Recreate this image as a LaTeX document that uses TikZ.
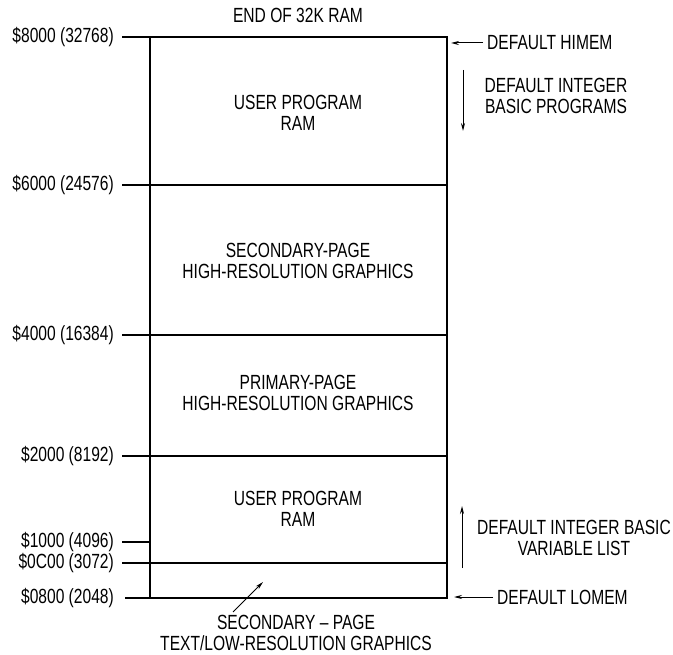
\documentclass[tikz,border=0pt]{standalone}
\usepackage{fontspec}
\setmainfont{Liberation Sans}[FakeStretch=0.76]
\usetikzlibrary{arrows.meta}
\begin{document}
\begin{tikzpicture}[x=1pt,y=-1pt,
  lbl/.style={font=\fontsize{20.5}{21}\selectfont, inner sep=0pt, align=center},
  addr/.style={lbl, anchor=east},
  rule/.style={line width=1.4pt},
  arr/.style={line width=1pt,-{Stealth[length=8pt,width=4pt]}}]
\useasboundingbox (0,0) rectangle (673,655);
% levels
\coordinate (tl) at (150,37); \coordinate (tr) at (447,37);
\coordinate (bl) at (150,598); \coordinate (br) at (447,598);
\draw[rule] (122,37) -- (tr) -- (br) -- (125,598);
\draw[rule] (tl) -- (bl);
\draw[rule] (122,185) -- (447,185);
\draw[rule] (122,335) -- (447,335);
\draw[rule] (122,456) -- (447,456);
\draw[rule] (122,542) -- (150,542);
\draw[rule] (122,563) -- (447,563);
% address labels
\node[addr] (a8000) at (114,37) {\$8000 (32768)};
\node[addr] (a6000) at (114,185) {\$6000 (24576)};
\node[addr] (a4000) at (114,335) {\$4000 (16384)};
\node[addr] (a2000) at (114,456) {\$2000 (8192)};
\node[addr] (a1000) at (114,542) {\$1000 (4096)};
\node[addr] (a0c00) at (114,563) {\$0C00 (3072)};
\node[addr] (a0800) at (114,598) {\$0800 (2048)};
% region labels
\node[lbl] (end) at (298,15) {END OF 32K RAM};
\node[lbl] (r1) at (298,113) {USER PROGRAM\\RAM};
\node[lbl] (r2) at (298,261) {SECONDARY-PAGE\\HIGH-RESOLUTION GRAPHICS};
\node[lbl] (r3) at (298,393) {PRIMARY-PAGE\\HIGH-RESOLUTION GRAPHICS};
\node[lbl] (r4) at (298,509) {USER PROGRAM\\RAM};
% right annotations
\node[lbl, anchor=west] (himem) at (487,43) {DEFAULT HIMEM};
\coordinate (himemtip) at (451,43);
\draw[arr] (himem.west) ++(-4,0) -- (himemtip);
\node[lbl] (prog) at (556,96) {DEFAULT INTEGER\\BASIC PROGRAMS};
\coordinate (dtop) at (463,70); \coordinate (dbot) at (463,131);
\draw[arr] (dtop) -- (dbot);
\node[lbl] (vars) at (574,538) {DEFAULT INTEGER BASIC\\VARIABLE LIST};
\coordinate (ubot) at (462,568); \coordinate (utop) at (462,506);
\draw[arr] (ubot) -- (utop);
\node[lbl, anchor=west] (lomem) at (497,597) {DEFAULT LOMEM};
\coordinate (lomemtip) at (454,597);
\draw[arr] (lomem.west) ++(-4,0) -- (lomemtip);
% bottom label
\node[lbl] (sec) at (296,633) {SECONDARY -- PAGE\\TEXT/LOW-RESOLUTION GRAPHICS};
\coordinate (stip) at (263,582);
\coordinate (stail) at (233,612);
\draw[arr] (stail) -- (stip);
\end{tikzpicture}
\end{document}
